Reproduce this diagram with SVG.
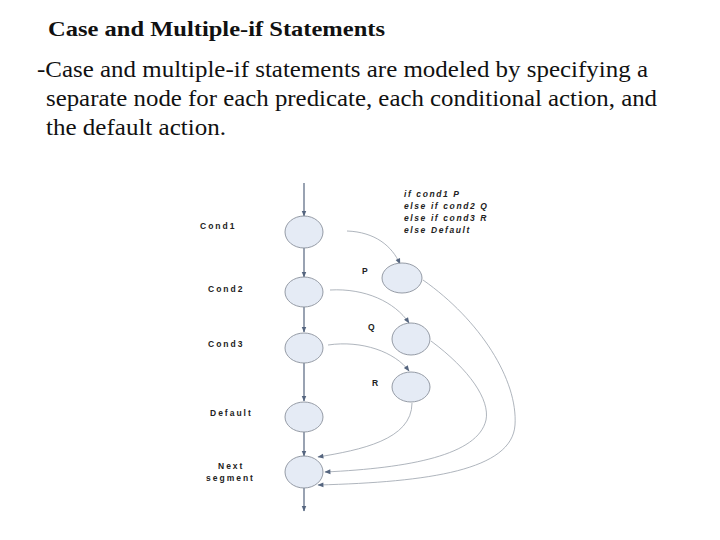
<svg xmlns="http://www.w3.org/2000/svg" width="720" height="540" viewBox="0 0 720 540">
<style>
.title{font-family:"Liberation Serif",serif;font-weight:bold;font-size:22px;fill:#111}
.body{font-family:"Liberation Serif",serif;font-size:24px;fill:#111}
.lbl{font-family:"Liberation Sans",Arial,sans-serif;font-weight:bold;font-size:8.5px;letter-spacing:2px;fill:#222}
.code{font-family:"Liberation Sans",Arial,sans-serif;font-weight:bold;font-style:italic;font-size:8.5px;letter-spacing:1.6px;fill:#222}
.node{fill:#e5ebf5;stroke:#8a919c;stroke-width:0.9}
.main{stroke:#55657f;stroke-width:1.2;fill:none;marker-end:url(#ah)}
.curve{stroke:#9aa2ac;stroke-width:0.8;fill:none;marker-end:url(#ah2)}
</style>
<defs>
<marker id="ah" viewBox="0 0 10 10" refX="9" refY="5" markerWidth="6" markerHeight="6" markerUnits="userSpaceOnUse" orient="auto"><path d="M0,1 L10,5 L0,9 Z" fill="#55657f"/></marker>
<marker id="ah2" viewBox="0 0 10 10" refX="9" refY="5" markerWidth="7" markerHeight="6" markerUnits="userSpaceOnUse" orient="auto"><path d="M0,1 L10,5 L0,9 Z" fill="#55657f"/></marker>
</defs>
<rect width="720" height="540" fill="#fff"/>
<text class="title" x="48" y="36" textLength="337" lengthAdjust="spacingAndGlyphs">Case and Multiple-if Statements</text>
<text class="body" x="37" y="77" textLength="611" lengthAdjust="spacingAndGlyphs">-Case and multiple-if statements are modeled by specifying a</text>
<text class="body" x="46" y="106" textLength="611" lengthAdjust="spacingAndGlyphs">separate node for each predicate, each conditional action, and</text>
<text class="body" x="46" y="135" textLength="180" lengthAdjust="spacingAndGlyphs">the default action.</text>
<g id="code">
<text class="code" x="404" y="197">if cond1 P</text>
<text class="code" x="404" y="209">else if cond2 Q</text>
<text class="code" x="404" y="221">else if cond3 R</text>
<text class="code" x="404" y="233">else Default</text>
</g>
<g id="connectors">
<line class="main" x1="304" y1="183" x2="304" y2="216"/>
<line class="main" x1="304" y1="248" x2="304" y2="277"/>
<line class="main" x1="304" y1="307" x2="304" y2="332"/>
<line class="main" x1="304" y1="363" x2="304" y2="401"/>
<line class="main" x1="304" y1="432" x2="304" y2="456"/>
<line class="main" x1="304" y1="488" x2="304" y2="511"/>
<path class="curve" d="M347,231 C375,232 392,246 400,264"/>
<path class="curve" d="M330,290 C365,288 395,302 409,323"/>
<path class="curve" d="M328,345 C362,340 395,352 409,371"/>
<path class="curve" d="M423,280 C480,320 518,380 515,425 C512,470 430,482 318,485"/>
<path class="curve" d="M431,341 C470,370 490,400 486,420 C478,455 410,468 325,472"/>
<path class="curve" d="M412,403 C412,440 360,450 318,457"/>
</g>
<g id="cond1"><ellipse class="node" cx="304" cy="232" rx="19" ry="16"/><text class="lbl" x="200" y="229">Cond1</text></g>
<g id="cond2"><ellipse class="node" cx="304" cy="292" rx="19" ry="15"/><text class="lbl" x="208" y="292">Cond2</text></g>
<g id="cond3"><ellipse class="node" cx="304" cy="348" rx="19" ry="15"/><text class="lbl" x="208" y="347">Cond3</text></g>
<g id="default"><ellipse class="node" cx="304" cy="417" rx="19" ry="15"/><text class="lbl" x="210" y="416">Default</text></g>
<g id="next"><ellipse class="node" cx="304" cy="472" rx="19" ry="16"/><text class="lbl" x="218" y="469">Next</text><text class="lbl" x="206" y="481">segment</text></g>
<g id="p"><ellipse class="node" cx="402" cy="278" rx="20" ry="15"/><text class="lbl" x="362" y="274">P</text></g>
<g id="q"><ellipse class="node" cx="411" cy="339" rx="19" ry="16"/><text class="lbl" x="368" y="330">Q</text></g>
<g id="r"><ellipse class="node" cx="411" cy="387" rx="19" ry="15"/><text class="lbl" x="372" y="386">R</text></g>
</svg>
